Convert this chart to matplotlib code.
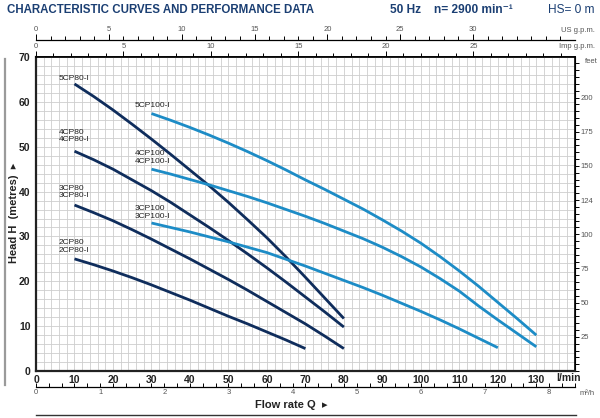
import numpy as np
import matplotlib.pyplot as plt
from matplotlib.lines import Line2D
from matplotlib.ticker import MultipleLocator, FixedLocator, FixedFormatter

# --- data (flow in l/min, head in metres) ---
flow_cp80 = [10, 15, 20, 25, 30, 35, 40, 45, 50, 55, 60, 65, 70, 75, 80]
head_5cp80 = [64, 61.2, 58.2, 55, 51.7, 48.3, 44.8, 41.3, 37.6, 33.7, 29.7, 25.4, 20.9, 16.3, 11.7]
head_4cp80 = [49, 47.1, 45, 42.6, 40.2, 37.6, 34.8, 32, 29.1, 26.1, 23, 19.8, 16.5, 13.2, 9.8]
head_3cp80 = [37, 35.3, 33.5, 31.5, 29.4, 27.2, 25, 22.7, 20.4, 18, 15.5, 13, 10.5, 7.8, 5]
flow_2cp80 = [10, 15, 20, 25, 30, 35, 40, 45, 50, 55, 60, 65, 70]
head_2cp80 = [25, 23.7, 22.3, 20.8, 19.2, 17.5, 15.8, 14, 12.2, 10.5, 8.7, 6.9, 5]

flow_cp100 = [30, 35, 40, 45, 50, 55, 60, 65, 70, 75, 80, 85, 90, 95, 100,
              105, 110, 115, 120, 125, 130]
head_5cp100 = [57.4, 55.9, 54.3, 52.6, 50.8, 48.9, 46.9, 44.8, 42.6, 40.5, 38.3,
               36.1, 33.7, 31.2, 28.5, 25.5, 22.3, 18.9, 15.3, 11.7, 8]
head_4cp100 = [45, 43.9, 42.7, 41.5, 40.2, 38.9, 37.5, 36, 34.5, 32.9, 31.2,
               29.5, 27.6, 25.5, 23.2, 20.6, 17.8, 14.5, 11.4, 8.4, 5.4]
flow_3cp100 = [30, 35, 40, 45, 50, 55, 60, 65, 70, 75, 80, 85, 90, 95, 100,
               105, 110, 115, 120]
head_3cp100 = [33, 32, 31, 29.9, 28.8, 27.6, 26.4, 24.9, 23.4, 21.8, 20.2,
               18.6, 16.9, 15.1, 13.3, 11.4, 9.4, 7.3, 5.2]

feet_ticks = [25, 50, 75, 100, 125, 150, 175, 200]
feet_labels = ['25', '50', '75', '100', '124', '150', '175', '200']

DARK = '#0f2d5c'
LIGHT = '#1d8cc6'
NAVY = '#1b3f73'
GREY = '#555555'

plt.rcParams['font.family'] = ['Liberation Sans', 'DejaVu Sans']

fig = plt.figure(figsize=(6.0, 4.18), dpi=100)
ax = fig.add_axes([0.06, 0.1124, 0.898, 0.7512])

for q, h in [(flow_cp80, head_5cp80), (flow_cp80, head_4cp80),
             (flow_cp80, head_3cp80), (flow_2cp80, head_2cp80)]:
    ax.plot(q, h, color=DARK, lw=2.0, solid_capstyle='butt')
for q, h in [(flow_cp100, head_5cp100), (flow_cp100, head_4cp100),
             (flow_3cp100, head_3cp100)]:
    ax.plot(q, h, color=LIGHT, lw=2.0, solid_capstyle='butt')

# curve names
lab = dict(fontsize=6, color='#222222', va='center', ha='left')
ax.text(6, 65.2, '5CP80-I', **lab)
ax.text(6, 52.4, '4CP80\n4CP80-I', linespacing=1.15, **lab)
ax.text(6, 39.9, '3CP80\n3CP80-I', linespacing=1.15, **lab)
ax.text(6, 27.7, '2CP80\n2CP80-I', linespacing=1.15, **lab)
ax.text(25.7, 59.2, '5CP100-I', **lab)
ax.text(25.7, 47.6, '4CP100\n4CP100-I', linespacing=1.15, **lab)
ax.text(25.7, 35.4, '3CP100\n3CP100-I', linespacing=1.15, **lab)

ax.set_xlim(0, 140)
ax.set_ylim(0, 70)
ax.xaxis.set_major_locator(FixedLocator(range(0, 131, 10)))
ax.xaxis.set_minor_locator(MultipleLocator(2))
ax.yaxis.set_major_locator(MultipleLocator(10))
ax.yaxis.set_minor_locator(MultipleLocator(2))
ax.grid(which='both', color='#cdcdcd', lw=0.6)
ax.set_axisbelow(True)
ax.tick_params(which='both', length=0)
ax.tick_params(axis='x', pad=3)
ax.tick_params(axis='y', pad=4)
for t in ax.get_xticklabels() + ax.get_yticklabels():
    t.set_fontweight('bold')
    t.set_fontsize(7.5)
    t.set_color('#222222')
for s in ['left', 'bottom']:
    ax.spines[s].set_linewidth(1.6)
    ax.spines[s].set_color('#222222')
ax.spines['right'].set_linewidth(1.2)
ax.spines['top'].set_linewidth(1.2)

# Imp g.p.m. on top spine
imp = ax.secondary_xaxis('top', functions=(lambda q: q / 4.546, lambda g: g * 4.546))
imp.xaxis.set_major_locator(FixedLocator(range(0, 26, 5)))
imp.xaxis.set_minor_locator(MultipleLocator(1))
imp.tick_params(which='major', length=4, width=0.7, labelsize=5.5, labelcolor=GREY, pad=1)
imp.tick_params(which='minor', length=3, width=0.7)
imp.spines['top'].set_linewidth(1.2)

# US g.p.m. above
us = ax.secondary_xaxis(1.054, functions=(lambda q: q / 3.785, lambda g: g * 3.785))
us.xaxis.set_major_locator(FixedLocator(range(0, 31, 5)))
us.xaxis.set_minor_locator(MultipleLocator(1))
us.tick_params(which='major', length=4, width=0.7, labelsize=5.5, labelcolor=GREY, pad=1)
us.tick_params(which='minor', length=3, width=0.7)
us.spines['top'].set_linewidth(0.9)

# m3/h below
m3 = ax.secondary_xaxis(-0.05, functions=(lambda q: q * 0.06, lambda m: m / 0.06))
m3.xaxis.set_major_locator(FixedLocator(range(0, 9)))
m3.xaxis.set_minor_locator(MultipleLocator(0.2))
m3.tick_params(which='both', direction='in', length=3, width=0.7, labelsize=5.5,
               labelcolor=GREY, pad=2)
m3.spines['bottom'].set_linewidth(0.9)

# feet on the right
ft = ax.secondary_yaxis('right', functions=(lambda h: h * 3.2808, lambda f: f / 3.2808))
ft.yaxis.set_major_locator(FixedLocator(feet_ticks))
ft.yaxis.set_major_formatter(FixedFormatter(feet_labels))
ft.yaxis.set_minor_locator(MultipleLocator(5))
ft.tick_params(which='both', length=3, width=0.7, labelsize=5.5, labelcolor=GREY, pad=1)

# unit labels
fig.text(0.992, 0.928, 'US g.p.m.', fontsize=5.5, color=GREY, ha='right', va='center')
fig.text(0.992, 0.888, 'Imp g.p.m.', fontsize=5.5, color=GREY, ha='right', va='center')
fig.text(0.985, 0.853, 'feet', fontsize=5.5, color=GREY, ha='center', va='center')
fig.text(0.947, 0.095, 'l/min', fontsize=7.5, fontweight='bold', color='#222222',
         ha='center', va='center')
fig.text(0.978, 0.058, 'm³/h', fontsize=5.5, color=GREY, ha='center', va='center')

fig.text(0.485, 0.03, 'Flow rate Q  ▸', fontsize=8, fontweight='bold', color='#222222',
         ha='center', va='center')
fig.text(0.024, 0.49, 'Head H  (metres)  ▸', fontsize=8, fontweight='bold', color='#222222',
         rotation=90, ha='center', va='center')

fig.add_artist(Line2D([0.06, 0.96], [0.008, 0.008], color='#333333', lw=1.0))
fig.add_artist(Line2D([0.009, 0.009], [0.08, 0.86], color='#9a9a9a', lw=1.6))

fig.text(0.012, 0.975, 'CHARACTERISTIC CURVES AND PERFORMANCE DATA', fontsize=8.3,
         fontweight='bold', color=NAVY, ha='left', va='center')
fig.text(0.65, 0.975, '50 Hz    n= 2900 min⁻¹', fontsize=8.6, fontweight='bold',
         color=NAVY, ha='left', va='center')
fig.text(0.99, 0.975, 'HS= 0 m', fontsize=8.6, color=NAVY, ha='right', va='center')

fig.savefig('out.png', dpi=100)
